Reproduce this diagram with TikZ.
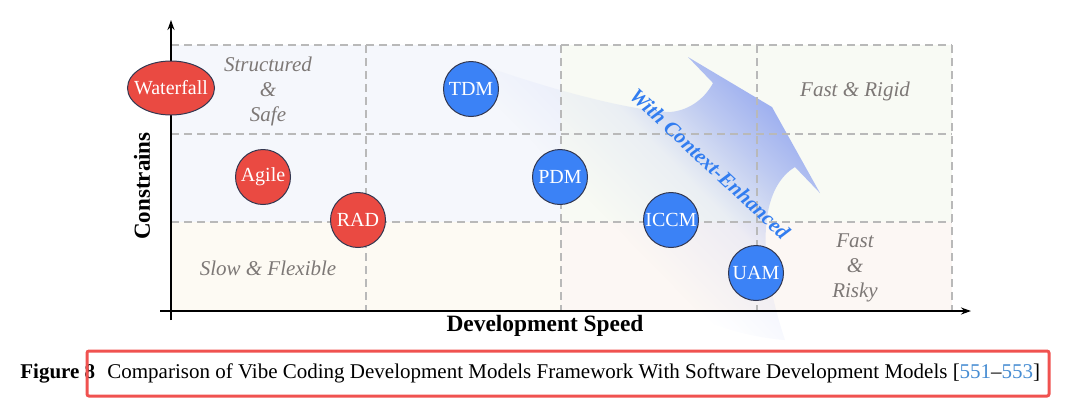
\documentclass[tikz,border=0pt]{standalone}
\usepackage{fontspec}
\setmainfont{Liberation Serif}
\definecolor{rojo}{RGB}{234, 74, 66}
\definecolor{azul}{RGB}{59, 130, 246}
\definecolor{borde}{RGB}{50, 55, 80}
\definecolor{fondoazul}{RGB}{245, 247, 252}
\definecolor{fondoverde}{RGB}{248, 250, 244}
\definecolor{fondocrema}{RGB}{253, 250, 243}
\definecolor{fondorosa}{RGB}{252, 247, 244}
\definecolor{rejilla}{RGB}{185, 185, 185}
\definecolor{gris}{RGB}{125, 120, 118}
\definecolor{barrido}{RGB}{158, 176, 240}
\definecolor{celeste}{RGB}{50, 125, 240}
\definecolor{marco}{RGB}{240, 82, 80}
\definecolor{cita}{RGB}{70, 140, 210}
\usetikzlibrary{arrows.meta}
\usetikzlibrary{positioning, shapes.geometric}
\usetikzlibrary{fadings}
\pgfdeclarehorizontalshading{barridoshade}{100bp}{color(0bp)=(black); color(42bp)=(black); color(56bp)=(black!85!white); color(66bp)=(black!35!white); color(74bp)=(white); color(100bp)=(white)}
\pgfdeclarefading{barridofade}{\pgfuseshading{barridoshade}}

\begin{document}
\begin{tikzpicture}[x=0.5pt, y=-0.5pt,
    model/.style={circle, draw=borde, line width=0.5pt, minimum size=27.5pt, inner sep=0pt, text=white, font=\fontsize{10}{12}\selectfont},
    redmodel/.style={model, fill=rojo},
    bluemodel/.style={model, fill=azul},
    quad/.style={text=gris, font=\fontsize{10.5}{12.5}\selectfont\itshape, align=center},
    gridline/.style={rejilla, dash pattern=on 4pt off 2.5pt, line width=0.6pt},
    axis/.style={line width=0.8pt, -{Stealth[length=5pt, width=3.5pt]}}]
    \useasboundingbox (0,0) rectangle (1080,398);

    % Quadrant backgrounds
    \fill[fondoazul] (171,45) rectangle (561,222);
    \fill[fondoverde] (561,45) rectangle (952,222);
    \fill[fondocrema] (171,222) rectangle (561,311);
    \fill[fondorosa] (561,222) rectangle (952,311);

    % Context-enhanced sweep
    \fill[barrido, path fading=barridofade, fading angle=40]
        (490,68) .. controls (560,92) and (630,110) .. (670,112)
        .. controls (692,110) and (706,96) .. (713,83)
        -- (688,57) -- (772,107) -- (820,193) -- (795,167)
        .. controls (765,185) and (752,240) .. (785,340)
        .. controls (650,330) and (500,200) .. (490,68) -- cycle;

    % Dashed grid
    \foreach \gx in {366,561,757,952}
        \draw[gridline] (\gx,45) -- (\gx,311);
    \foreach \gy in {45,134,222}
        \draw[gridline] (171,\gy) -- (952,\gy);

    % Axes
    \coordinate (xs) at (160,311);
    \coordinate (xe) at (971,311);
    \coordinate (ys) at (171,320);
    \coordinate (ye) at (171,20);
    \draw[axis] (xs) -- (xe);
    \draw[axis] (ys) -- (ye);
    \node[font=\fontsize{11.7}{14}\selectfont\bfseries] (xlab) at (545,326) {Development Speed};
    \node[font=\fontsize{11.5}{14}\selectfont\bfseries, rotate=90] (ylab) at (142,186) {Constrains};

    % Quadrant labels
    \node[quad] (qsafe) at (268,91) {Structured\\\&\\Safe};
    \node[quad] (qrigid) at (855,91) {Fast \& Rigid};
    \node[quad] (qflex) at (268,268) {Slow \& Flexible};
    \node[quad] (qrisky) at (855,268) {Fast\\\&\\Risky};

    % Software development models
    \node[ellipse, draw=borde, line width=0.5pt, fill=rojo, text=white, minimum width=43.5pt, minimum height=27pt, inner xsep=-3.8pt, inner ysep=0pt, font=\fontsize{10}{12}\selectfont] (wf) at (171,88) {Waterfall};
    \node[redmodel] (agile) at (263,177) {Agile};
    \node[redmodel] (rad) at (358,220) {RAD};

    % Vibe coding models
    \node[bluemodel] (tdm) at (471,89) {TDM};
    \node[bluemodel] (pdm) at (560,177) {PDM};
    \node[bluemodel] (iccm) at (671,220) {ICCM};
    \node[bluemodel] (uam) at (756,273) {UAM};

    \node[text=celeste, font=\fontsize{10.5}{12}\selectfont\bfseries\itshape, rotate=-43, inner sep=0pt] (ctx) at (710,164) {With Context-Enhanced};

    % Caption
    \node[font=\fontsize{10.5}{12}\selectfont\bfseries, anchor=base west, inner sep=0pt] (figlab) at (20,378) {Figure 8};
    \node[font=\fontsize{10.5}{12}\selectfont, anchor=base west, inner sep=0pt] (cap) at (107,378) {Comparison of Vibe Coding Development Models Framework With Software Development Models [\textcolor{cita}{551}--\textcolor{cita}{553}]};
    \draw[marco, line width=1.5pt, rounded corners=1pt] (87,351) rectangle (1049,396);
\end{tikzpicture}
\end{document}
